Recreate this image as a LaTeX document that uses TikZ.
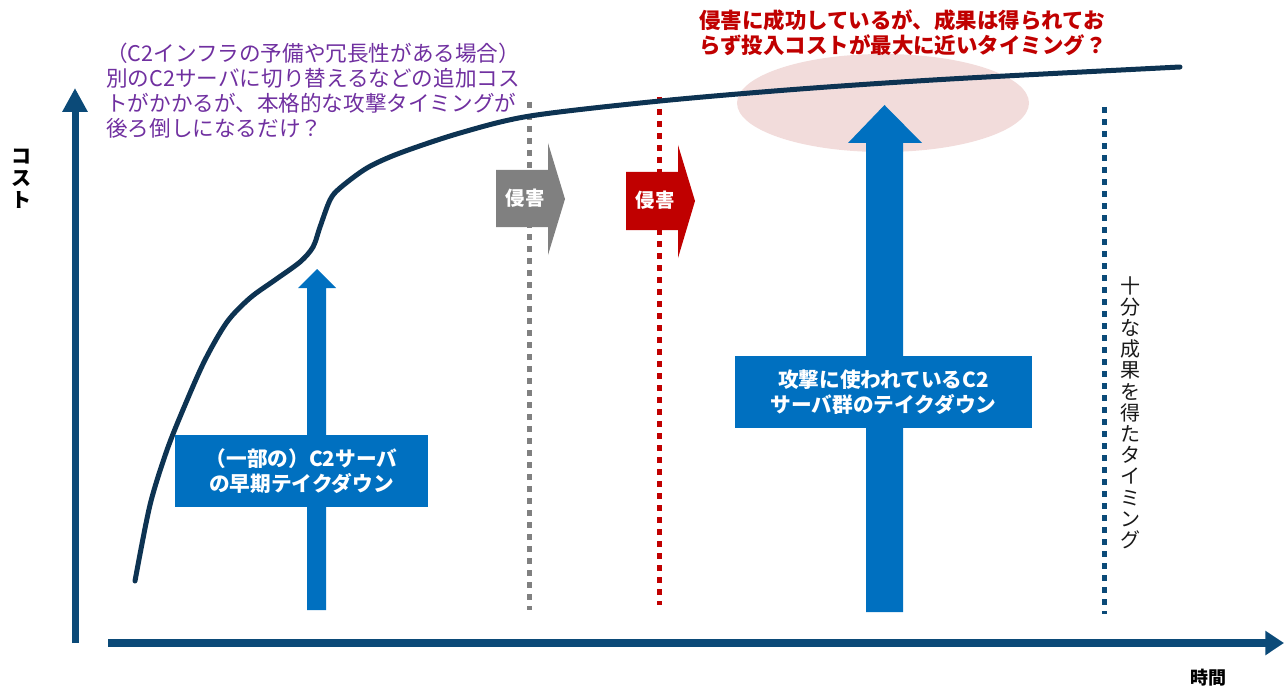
\documentclass[tikz,border=0pt]{standalone}
\usepackage{fontspec}
\setmainfont{Noto Sans CJK JP}
\usetikzlibrary{arrows.meta}
\definecolor{axisblue}{HTML}{0B4A78}
\definecolor{curvenavy}{HTML}{0D3352}
\definecolor{arrowblue}{HTML}{0070C0}
\definecolor{hitgray}{HTML}{808080}
\definecolor{hitred}{HTML}{C00000}
\definecolor{softpink}{HTML}{F2DCDB}
\definecolor{notepurple}{HTML}{7030A0}
\begin{document}
\begin{tikzpicture}[x=0.75pt,y=-0.75pt,
  axisline/.style={draw=axisblue, line width=5.25pt},
  dotline/.style={line width=3.75pt, dash pattern=on 4.5pt off 4.5pt},
  purpletext/.style={font=\fontsize{16.2pt}{18.75pt}\selectfont, text=notepurple, align=left, inner sep=0pt},
  redtext/.style={font=\fontsize{16.1pt}{18.75pt}\selectfont\bfseries, text=hitred, align=left, inner sep=0pt},
  bluebox/.style={fill=arrowblue, text=white, font=\fontsize{15.5pt}{18.75pt}\selectfont\bfseries, align=center, inner sep=0pt},
  arrowlabel/.style={text=white, font=\fontsize{14.5pt}{16pt}\selectfont\bfseries, inner sep=0pt},
  vtext/.style={font=\fontsize{15pt}{15.9pt}\selectfont, text=black!90, align=center, inner sep=0pt},
  axislabel/.style={font=\fontsize{15pt}{16.5pt}\selectfont\bfseries, text=black, align=center, inner sep=0pt}
]
\useasboundingbox (0,0) rectangle (1284,688);

% pink highlight ellipse
\fill[softpink] (883,103) ellipse [x radius=109.5pt, y radius=36.75pt];

% axes
\coordinate (yorig) at (75,643);
\coordinate (ytip) at (75,88);
\coordinate (xorig) at (108,643);
\coordinate (xtip) at (1284,643);
\draw[axisline, -{Triangle[length=18pt,width=18pt]}] (yorig) -- (ytip);
\draw[axisblue, line width=6pt, -{Triangle[length=14pt,width=17.5pt]}] (xorig) -- (xtip);

% dotted timing lines
\coordinate (g1) at (529,102); \coordinate (g2) at (529,610);
\coordinate (r1) at (659,97);  \coordinate (r2) at (659,605);
\coordinate (b1) at (1104,107); \coordinate (b2) at (1104,614);
\draw[dotline, hitgray] (g1) -- (g2);
\draw[dotline, hitred] (r1) -- (r2);
\draw[dotline, axisblue] (b1) -- (b2);

% cost curve
\draw[curvenavy, line width=3.75pt, line cap=round]
  plot[smooth, tension=0.5] coordinates {
  (135,581) (150,505) (167,450) (185,405) (205,360) (227,322)
  (250,298) (275,280) (300,262) (313,247) (320,227) (330,200) (340,188)
  (367,168) (400,153) (460,133) (530,116) (660,101) (800,89) (950,79) (1180,67)};

% block arrows "invasion"
\fill[hitgray] (496,170) -- (548,170) -- (548,143) -- (565,199) -- (548,255) -- (548,227) -- (496,227) -- cycle;
\node[arrowlabel] (gtext) at (525,198) {侵害};
\fill[hitred] (626,172) -- (678,172) -- (678,145) -- (695,201) -- (678,258) -- (678,230) -- (626,230) -- cycle;
\node[arrowlabel] (rtext) at (655,200) {侵害};

% blue up arrows
\fill[arrowblue] (307,610) -- (307,288) -- (298,288) -- (317,269) -- (336,288) -- (326,288) -- (326,610) -- cycle;
\fill[arrowblue] (866,612) -- (866,143) -- (848,143) -- (884.5,105) -- (922,143) -- (903,143) -- (903,612) -- cycle;

% boxes
\node[bluebox, minimum width=189.75pt, minimum height=54pt] (box1) at (301.5,471)
  {（一部の）C2サーバ\\の早期テイクダウン};
\node[bluebox, minimum width=222.75pt, minimum height=54pt] (box2) at (883.5,392)
  {攻撃に使われているC2\\サーバ群のテイクダウン};

% texts
\node[purpletext, anchor=west] (note) at (106,90.5)
  {（C2インフラの予備や冗長性がある場合）\\別のC2サーバに切り替えるなどの追加コス\\トがかかるが、本格的な攻撃タイミングが\\後ろ倒しになるだけ？};
\node[redtext, anchor=west] (question) at (699,32.5)
  {侵害に成功しているが、成果は得られてお\\らず投入コストが最大に近いタイミング？};
\node[vtext] (vlabel) at (1130,412.5)
  {十\\分\\な\\成\\果\\を\\得\\た\\タ\\イ\\ミ\\ン\\グ};
\node[axislabel] (ylab) at (22,179) {コ\\ス\\ト};
\node[font=\fontsize{13.5pt}{15pt}\selectfont\bfseries, inner sep=0pt] (xlab) at (1208,678) {時間};
\end{tikzpicture}
\end{document}
